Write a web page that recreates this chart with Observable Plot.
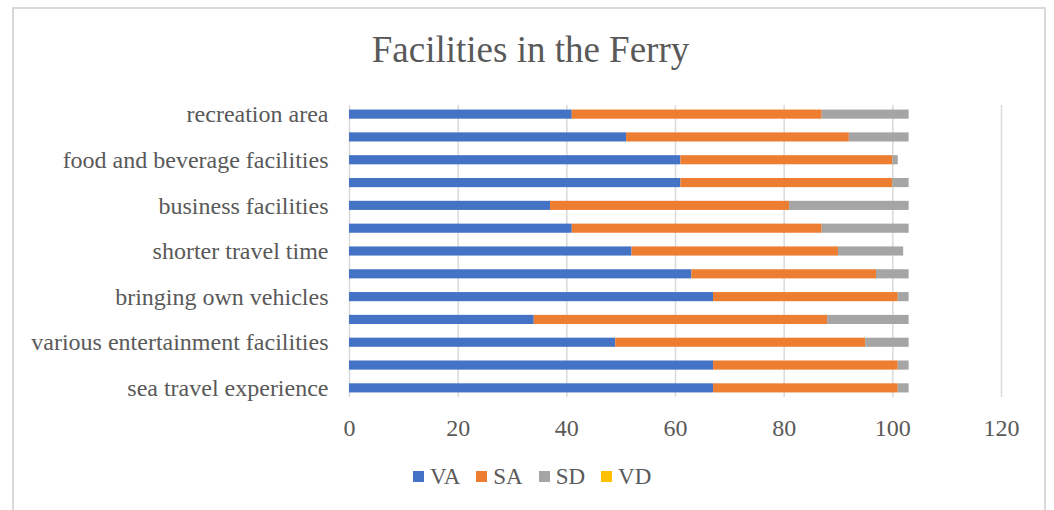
<!DOCTYPE html>
<html>
<head>
<meta charset="utf-8">
<script src="https://cdn.jsdelivr.net/npm/d3@7"></script>
<script src="https://cdn.jsdelivr.net/npm/@observablehq/plot@0.6"></script>
<style>
  html, body { margin: 0; padding: 0; background: #fff; }
  #wrap { position: relative; width: 1054px; height: 510px; overflow: hidden; background: #fff; }
  #frame { position: absolute; left: 12px; top: 7px; width: 1034px; height: 520px; border: 2px solid #d9d9d9; box-sizing: border-box; }
  #title { position: absolute; left: 13px; width: 1035px; top: 31px; text-align: center;
           font-family: "Liberation Serif", "Times New Roman", serif; font-size: 37px; line-height: 37px; color: #595959; }
  #chart { position: absolute; left: 0; top: 0; }
  #legend { position: absolute; left: 413px; top: 460px; }
  .lg-swatch { margin-right: 16px !important; }
  .lg-swatch > svg { margin-right: 6px !important; }
</style>
</head>
<body>
<div id="wrap">
  <div id="frame"></div>
  <div id="chart"></div>
  <div id="title">Facilities in the Ferry</div>
  <div id="legend"></div>
</div>
<script>
// Categories, top to bottom (every other one is unlabeled in the original)
const categories = [
  "recreation area", "item 2", "food and beverage facilities", "item 4",
  "business facilities", "item 6", "shorter travel time", "item 8",
  "bringing own vehicles", "item 10", "various entertainment facilities", "item 12",
  "sea travel experience"
];
const tickLabels = [
  "recreation area", "", "food and beverage facilities", "",
  "business facilities", "", "shorter travel time", "",
  "bringing own vehicles", "", "various entertainment facilities", "",
  "sea travel experience"
];
const seriesNames = ["VA", "SA", "SD", "VD"];
const seriesColors = ["#4472C4", "#ED7D31", "#A5A5A5", "#FFC000"];
const VA = [41, 51, 61, 61, 37, 41, 52, 63, 67, 34, 49, 67, 67];
const SA = [46, 41, 39, 39, 44, 46, 38, 34, 34, 54, 46, 34, 34];
const SD = [16, 11, 1, 3, 22, 16, 12, 6, 2, 15, 8, 2, 2];
const VD = [0, 0, 0, 0, 0, 0, 0, 0, 0, 0, 0, 0, 0];
const xTicks = [0, 20, 40, 60, 80, 100, 120];

const seriesValues = [VA, SA, SD, VD];
const data = [];
seriesNames.forEach((s, si) => {
  categories.forEach((c, ci) => data.push({category: c, series: s, value: seriesValues[si][ci]}));
});

const H = 445;
const chart = Plot.plot({
  width: 1054,
  height: H,
  marginLeft: 349,
  marginRight: 53,
  marginTop: 105,
  marginBottom: H - 397,
  style: {fontFamily: "'Liberation Serif', 'Times New Roman', serif", fontSize: "24px", color: "#595959", background: "transparent"},
  x: {domain: [0, 120], ticks: xTicks},
  y: {domain: categories, paddingInner: 0.6, paddingOuter: 0.2, round: false},
  color: {domain: seriesNames, range: seriesColors},
  marks: [
    Plot.ruleX(xTicks, {stroke: "#d9d9d9", strokeWidth: 1.5}),
    Plot.barX(data, {x: "value", y: "category", fill: "series", order: seriesNames}),
    Plot.axisX({ticks: xTicks, tickSize: 0, tickPadding: 21, label: null, fontSize: 24}),
    Plot.axisY({tickSize: 0, tickPadding: 21, label: null, fontSize: 24,
      tickFormat: d => tickLabels[categories.indexOf(d)]})
  ]
});
document.getElementById("chart").appendChild(chart);

const legend = Plot.legend({
  color: {domain: seriesNames, range: seriesColors},
  className: "lg",
  swatchSize: 11,
  style: {fontFamily: "'Liberation Serif', 'Times New Roman', serif", fontSize: "23px", color: "#595959"}
});
document.getElementById("legend").appendChild(legend);
</script>
</body>
</html>
